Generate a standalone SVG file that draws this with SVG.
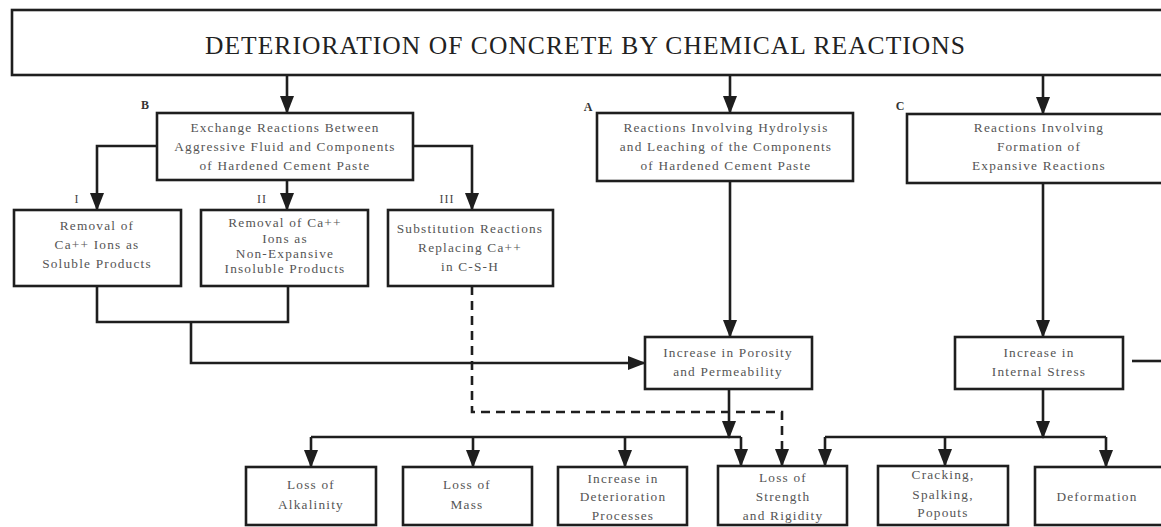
<svg xmlns="http://www.w3.org/2000/svg" width="1161" height="527" viewBox="0 0 1161 527">
<style>
.box{fill:#fff;stroke:#1e1e1e;stroke-width:2.6}
.t{font-family:"Liberation Serif","Times New Roman",serif;font-size:13.3px;fill:#555;text-anchor:middle;letter-spacing:1.2px}
.title{font-family:"Liberation Serif","Times New Roman",serif;font-size:25.5px;fill:#222;text-anchor:middle}
.lbl{font-family:"Liberation Serif","Times New Roman",serif;font-size:12px;fill:#333;text-anchor:middle;font-weight:bold}
.num{font-family:"Liberation Serif","Times New Roman",serif;font-size:12px;fill:#444;text-anchor:middle;letter-spacing:1px}
.c{fill:none;stroke:#1e1e1e;stroke-width:2.6}
.a{marker-end:url(#ah)}
.d{stroke-dasharray:9,6}
</style>
<defs>
<marker id="ah" viewBox="0 0 18 14" refX="17" refY="7" markerWidth="18" markerHeight="14" markerUnits="userSpaceOnUse" orient="auto">
<path d="M0,0 L18,7 L0,14 z" fill="#1e1e1e"/>
</marker>
</defs>
<rect width="1161" height="527" fill="#fff"/>
<g id="connectors">
<path class="c a" d="M287,75 V113"/>
<path class="c a" d="M730,75 V113"/>
<path class="c a" d="M1043,75 V114"/>
<path class="c a" d="M157,146 H97 V210"/>
<path class="c a" d="M287,180 V210"/>
<path class="c a" d="M413,146 H472 V210"/>
<path class="c" d="M97,286 V322 H288 V286"/>
<path class="c a" d="M191,322 V363 H645"/>
<path class="c d a" d="M472,286 V412 H782 V466"/>
<path class="c a" d="M730,181 V337"/>
<path class="c a" d="M729,389 V438"/>
<path class="c" d="M311,437 H741"/>
<path class="c a" d="M311,437 V467"/>
<path class="c a" d="M473,437 V467"/>
<path class="c a" d="M625,437 V467"/>
<path class="c a" d="M741,437 V466"/>
<path class="c a" d="M1043,183 V337"/>
<path class="c a" d="M1043,389 V438"/>
<path class="c" d="M825,437 H1106"/>
<path class="c a" d="M825,437 V466"/>
<path class="c a" d="M945,437 V466"/>
<path class="c a" d="M1106,437 V467"/>
<path class="c" d="M1132,361 H1161"/>
</g>
<g id="title">
<rect class="box" x="12" y="10" width="1160" height="65"/>
<text class="title" x="585" y="54" textLength="760" lengthAdjust="spacing">DETERIORATION OF CONCRETE BY CHEMICAL REACTIONS</text>
</g>
<g id="nodeB">
<rect class="box" x="157" y="113" width="256" height="67"/>
<text class="lbl" x="145" y="109">B</text>
<text class="t" x="285" y="132">Exchange Reactions Between</text>
<text class="t" x="285" y="151">Aggressive Fluid and Components</text>
<text class="t" x="285" y="170">of Hardened Cement Paste</text>
</g>
<g id="nodeA">
<rect class="box" x="597" y="113" width="256" height="68"/>
<text class="lbl" x="588" y="111">A</text>
<text class="t" x="726" y="132">Reactions Involving Hydrolysis</text>
<text class="t" x="726" y="151">and Leaching of the Components</text>
<text class="t" x="726" y="170">of Hardened Cement Paste</text>
</g>
<g id="nodeC">
<rect class="box" x="907" y="114" width="270" height="69"/>
<text class="lbl" x="900" y="110">C</text>
<text class="t" x="1039" y="132">Reactions Involving</text>
<text class="t" x="1039" y="151">Formation of</text>
<text class="t" x="1039" y="170">Expansive Reactions</text>
</g>
<g id="nodeI">
<rect class="box" x="14" y="210" width="167" height="76"/>
<text class="num" x="77" y="203">I</text>
<text class="t" x="97" y="230">Removal of</text>
<text class="t" x="97" y="249">Ca++ Ions as</text>
<text class="t" x="97" y="268">Soluble Products</text>
</g>
<g id="nodeII">
<rect class="box" x="201" y="210" width="167" height="76"/>
<text class="num" x="262" y="203">II</text>
<text class="t" x="285" y="227">Removal of Ca++</text>
<text class="t" x="285" y="243">Ions as</text>
<text class="t" x="285" y="258">Non-Expansive</text>
<text class="t" x="285" y="273">Insoluble Products</text>
</g>
<g id="nodeIII">
<rect class="box" x="388" y="210" width="165" height="76"/>
<text class="num" x="447" y="203">III</text>
<text class="t" x="470" y="233">Substitution Reactions</text>
<text class="t" x="470" y="252">Replacing Ca++</text>
<text class="t" x="470" y="271">in C-S-H</text>
</g>
<g id="nodePorosity">
<rect class="box" x="645" y="337" width="167" height="52"/>
<text class="t" x="728" y="357">Increase in Porosity</text>
<text class="t" x="728" y="376">and Permeability</text>
</g>
<g id="nodeStress">
<rect class="box" x="955" y="337" width="168" height="52"/>
<text class="t" x="1039" y="357">Increase in</text>
<text class="t" x="1039" y="376">Internal Stress</text>
</g>
<g id="nodeAlkalinity">
<rect class="box" x="246" y="467" width="130" height="58"/>
<text class="t" x="311" y="489">Loss of</text>
<text class="t" x="311" y="509">Alkalinity</text>
</g>
<g id="nodeMass">
<rect class="box" x="403" y="467" width="129" height="58"/>
<text class="t" x="467" y="489">Loss of</text>
<text class="t" x="467" y="509">Mass</text>
</g>
<g id="nodeDeterioration">
<rect class="box" x="558" y="467" width="129" height="58"/>
<text class="t" x="623" y="483">Increase in</text>
<text class="t" x="623" y="501">Deterioration</text>
<text class="t" x="623" y="520">Processes</text>
</g>
<g id="nodeStrength">
<rect class="box" x="718" y="466" width="129" height="59"/>
<text class="t" x="783" y="482">Loss of</text>
<text class="t" x="783" y="501">Strength</text>
<text class="t" x="783" y="520">and Rigidity</text>
</g>
<g id="nodeCracking">
<rect class="box" x="878" y="466" width="130" height="59"/>
<text class="t" x="943" y="479">Cracking,</text>
<text class="t" x="943" y="499">Spalking,</text>
<text class="t" x="943" y="517">Popouts</text>
</g>
<g id="nodeDeformation">
<rect class="box" x="1035" y="467" width="140" height="58"/>
<text class="t" x="1097" y="501">Deformation</text>
</g>
</svg>
